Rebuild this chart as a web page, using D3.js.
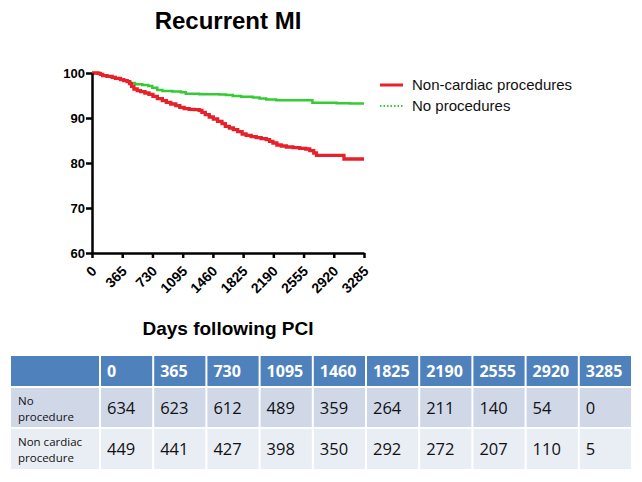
<!DOCTYPE html>
<html><head><meta charset="utf-8">
<script src="https://cdn.jsdelivr.net/npm/d3@7"></script>
<style>body{margin:0;background:#fff}svg{display:block}</style>
</head><body>
<script>
// ---- data ----
const xTicks = [0,365,730,1095,1460,1825,2190,2555,2920,3285];
const yTicks = [60,70,80,90,100];
const redDays = [0,73,101,129,182,243,283,344,384,425,453,477,506,546,587,639,688,736,789,850,898,951,1012,1060,1113,1173,1234,1295,1327,1368,1416,1465,1517,1570,1610,1659,1707,1760,1813,1861,1922,1983,2043,2104,2144,2185,2233,2286,2347,2428,2509,2581,2630,2678,2711,3043,3285];
const redVals = [100,99.93,99.7,99.41,99.26,99.04,98.81,98.52,98.3,98.07,97.63,97.04,96.44,96.07,95.85,95.56,95.26,94.81,94.3,93.85,93.48,93.11,92.74,92.37,92.07,91.93,91.85,91.7,91.26,90.74,90.22,89.78,89.26,88.74,88.15,87.78,87.41,86.96,86.44,86.15,85.85,85.63,85.41,85.19,84.81,84.44,84.0,83.78,83.56,83.41,83.26,83.11,82.74,82.22,81.7,80.89,80.89];
const greenDays = [0,73,101,129,182,243,283,344,384,425,465,518,607,680,728,789,850,971,1072,1133,1295,1537,1618,1700,1801,1942,2023,2104,2225,2428,2662,2954,3115,3285];
const greenVals = [100,99.93,99.7,99.41,99.26,99.04,98.81,98.52,98.3,98.07,97.8,97.5,97.35,97.1,96.7,96.2,96.0,95.9,95.7,95.4,95.3,95.25,95.1,94.9,94.75,94.55,94.35,94.1,93.95,93.95,93.4,93.3,93.2,93.2];
const seriesNames = ["Non-cardiac procedures","No procedures"];
const tableHeader = ["0","365","730","1095","1460","1825","2190","2555","2920","3285"];
const rowLabels = [["No","procedure"],["Non cardiac","procedure"]];
const noProc = [634,623,612,489,359,264,211,140,54,0];
const nonCardiac = [449,441,427,398,350,292,272,207,110,5];

const W=642,H=482;
const svg=d3.select("body").append("svg").attr("width",W).attr("height",H);
const x=d3.scaleLinear().domain([0,3285]).range([92,364]);
const y=d3.scaleLinear().domain([60,100]).range([253,73]);
const F="'Liberation Sans', Arial, sans-serif";

svg.append("text").attr("x",228).attr("y",29).attr("text-anchor","middle")
  .attr("font-family",F).attr("font-weight","bold").attr("font-size",24).text("Recurrent MI");

const line=d3.line().x(d=>x(d[0])).y(d=>y(d[1])).curve(d3.curveStepAfter);
svg.append("path").datum(greenDays.map((d,i)=>[d,greenVals[i]]))
  .attr("d",line).attr("fill","none").attr("stroke","#33cc33").attr("stroke-width",2.5);
svg.append("path").datum(redDays.map((d,i)=>[d,redVals[i]]))
  .attr("d",line).attr("fill","none").attr("stroke","#e8202a").attr("stroke-width",3.3);

const gx=svg.append("g").attr("transform","translate(0,253)")
  .call(d3.axisBottom(x).tickValues(xTicks).tickSize(5).tickSizeOuter(0).tickFormat(d3.format("d")));
const gy=svg.append("g").attr("transform","translate(92,0)")
  .call(d3.axisLeft(y).tickValues(yTicks).tickSize(6).tickSizeOuter(0).tickPadding(1));
[gx,gy].forEach(g=>{
  g.select(".domain").attr("stroke","#000").attr("stroke-width",2.5);
  g.selectAll(".tick line").attr("stroke","#000").attr("stroke-width",2.5);
  g.selectAll("text").attr("font-family",F).attr("font-weight","bold").attr("font-size",13).attr("fill","#000");
});
gx.selectAll("text").attr("text-anchor","end").attr("dy",0).attr("y",0).attr("font-size",14)
  .attr("transform","translate(5,19) rotate(-45)");

// legend
const lg=svg.append("g");
lg.append("line").attr("x1",380).attr("x2",403).attr("y1",85).attr("y2",85).attr("stroke","#e8202a").attr("stroke-width",3);
lg.append("line").attr("x1",380).attr("x2",403).attr("y1",106).attr("y2",106).attr("stroke","#33cc33").attr("stroke-width",2).attr("stroke-dasharray","1.5,2");
lg.selectAll("text").data(seriesNames).join("text").attr("x",412).attr("y",(d,i)=>85+i*21+5)
  .attr("font-family",F).attr("font-size",15).attr("fill","#111").text(d=>d);

svg.append("text").attr("x",228).attr("y",335).attr("text-anchor","middle")
  .attr("font-family",F).attr("font-weight","bold").attr("font-size",19).text("Days following PCI");

// table
const TF="'Open Sans', sans-serif";
const colX=d3.scaleBand().domain(tableHeader).range([101,633]);
const rows=[{y:356,h:30,fill:"#4f81bd"},{y:388,h:39,fill:"#d0d8e8"},{y:429,h:40,fill:"#e9edf4"}];
const tg=svg.append("g");
rows.forEach((r,ri)=>{
  tg.append("rect").attr("x",11).attr("y",r.y).attr("width",88).attr("height",r.h).attr("fill",r.fill);
  tableHeader.forEach(c=>{
    tg.append("rect").attr("x",colX(c)).attr("y",r.y).attr("width",colX.bandwidth()-2).attr("height",r.h).attr("fill",r.fill);
  });
});
tg.selectAll("text.h").data(tableHeader).join("text").attr("class","h")
  .attr("x",d=>colX(d)+6).attr("y",377).attr("font-family",TF).attr("font-weight","bold")
  .attr("font-size",16).attr("fill","#fff").text(d=>d);
[noProc,nonCardiac].forEach((vals,ri)=>{
  const r=rows[ri+1];
  tg.selectAll("text.v"+ri).data(vals).join("text").attr("class","v"+ri)
    .attr("x",(d,i)=>colX(tableHeader[i])+6).attr("y",r.y+r.h/2+6)
    .attr("font-family",TF).attr("font-size",16.5).attr("fill","#111").text(d=>d);
  rowLabels[ri].forEach((t,li)=>{
    tg.append("text").attr("x",18).attr("y",r.y+17+li*16).attr("font-family",TF)
      .attr("font-size",11.5).attr("fill","#111").text(t);
  });
});
</script>
</body></html>
